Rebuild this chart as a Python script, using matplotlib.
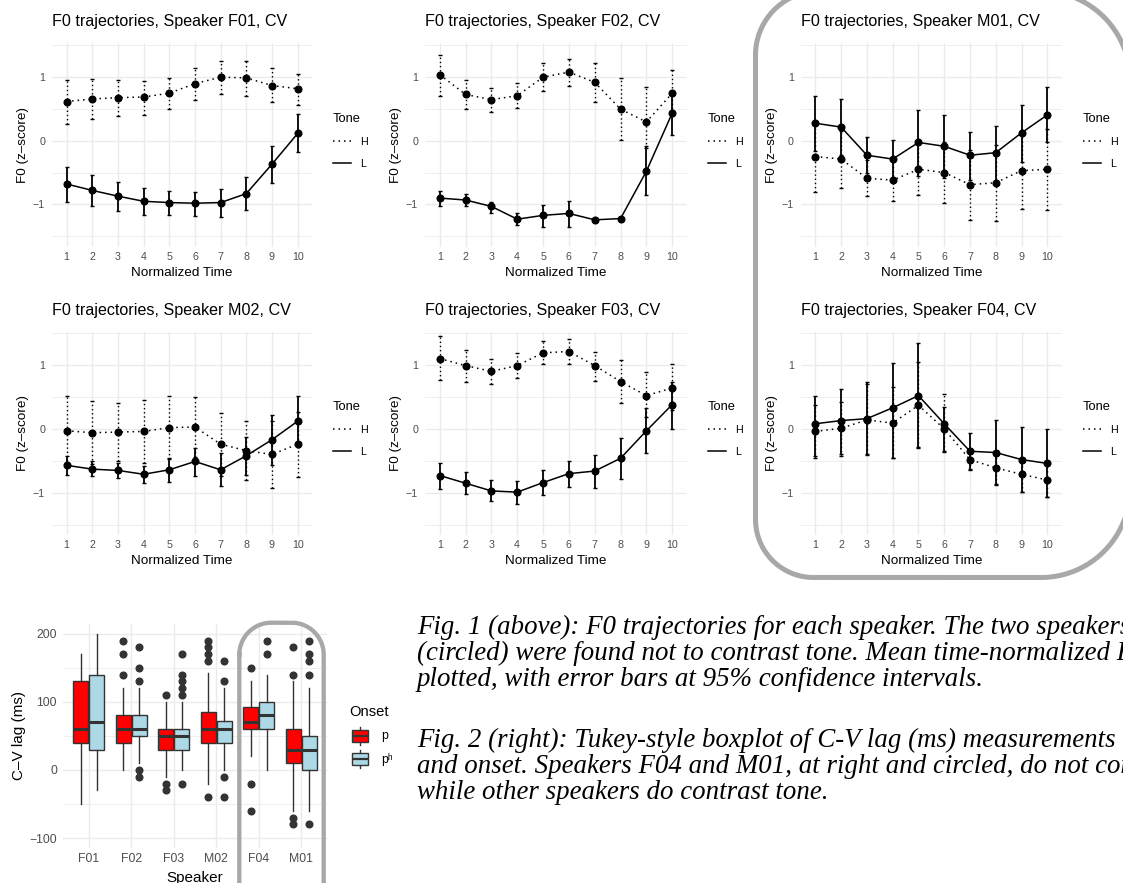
import numpy as np
import matplotlib
matplotlib.use('Agg')
import matplotlib.pyplot as plt
from matplotlib.lines import Line2D
from matplotlib.patches import Rectangle

plt.rcParams['font.family'] = ['Liberation Sans', 'DejaVu Sans']

# ---------------- data ----------------
time = np.arange(1, 11)

F01_H_mean = [0.61, 0.65, 0.67, 0.68, 0.74, 0.89, 0.99, 0.98, 0.86, 0.81]
F01_H_lo = [0.26, 0.33, 0.38, 0.40, 0.49, 0.64, 0.72, 0.69, 0.60, 0.56]
F01_H_hi = [0.95, 0.96, 0.95, 0.93, 0.97, 1.13, 1.25, 1.25, 1.13, 1.04]
F01_L_mean = [-0.68, -0.78, -0.87, -0.95, -0.97, -0.98, -0.97, -0.83, -0.37, 0.11]
F01_L_lo = [-0.96, -1.02, -1.10, -1.16, -1.16, -1.18, -1.19, -1.09, -0.66, -0.18]
F01_L_hi = [-0.41, -0.54, -0.65, -0.75, -0.79, -0.80, -0.76, -0.57, -0.08, 0.42]

F02_H_mean = [1.03, 0.72, 0.64, 0.70, 0.99, 1.07, 0.91, 0.49, 0.29, 0.74]
F02_H_lo = [0.69, 0.49, 0.44, 0.51, 0.77, 0.86, 0.61, 0.01, -0.12, 0.43]
F02_H_hi = [1.34, 0.95, 0.82, 0.90, 1.21, 1.28, 1.21, 0.97, 0.84, 1.11]
F02_L_mean = [-0.90, -0.93, -1.03, -1.23, -1.17, -1.14, -1.24, -1.22, -0.48, 0.43]
F02_L_lo = [-1.02, -1.02, -1.13, -1.32, -1.35, -1.35, -1.27, -1.24, -0.85, 0.09]
F02_L_hi = [-0.79, -0.84, -0.96, -1.14, -1.01, -0.94, -1.21, -1.20, -0.09, 0.77]

M01_H_mean = [-0.25, -0.29, -0.59, -0.62, -0.45, -0.50, -0.69, -0.66, -0.47, -0.45]
M01_H_lo = [-0.80, -0.74, -0.87, -0.95, -0.85, -0.98, -1.24, -1.26, -1.07, -1.08]
M01_H_hi = [0.28, 0.15, -0.31, -0.30, -0.06, -0.02, -0.15, -0.07, 0.12, 0.18]
M01_L_mean = [0.27, 0.21, -0.23, -0.29, -0.03, -0.09, -0.23, -0.19, 0.12, 0.40]
M01_L_lo = [-0.17, -0.22, -0.51, -0.58, -0.56, -0.59, -0.61, -0.63, -0.33, -0.02]
M01_L_hi = [0.70, 0.65, 0.05, 0.01, 0.48, 0.40, 0.13, 0.23, 0.56, 0.83]

M02_H_mean = [-0.03, -0.06, -0.05, -0.04, 0.02, 0.03, -0.24, -0.34, -0.40, -0.24]
M02_H_lo = [-0.57, -0.55, -0.51, -0.53, -0.47, -0.44, -0.73, -0.80, -0.92, -0.75]
M02_H_hi = [0.51, 0.43, 0.41, 0.45, 0.51, 0.50, 0.25, 0.12, 0.12, 0.27]
M02_L_mean = [-0.57, -0.63, -0.65, -0.71, -0.64, -0.51, -0.64, -0.42, -0.17, 0.12]
M02_L_lo = [-0.72, -0.74, -0.77, -0.85, -0.83, -0.73, -0.90, -0.72, -0.57, -0.29]
M02_L_hi = [-0.42, -0.51, -0.54, -0.58, -0.46, -0.30, -0.38, -0.13, 0.21, 0.51]

F03_H_mean = [1.10, 0.99, 0.90, 0.99, 1.19, 1.21, 0.99, 0.74, 0.52, 0.64]
F03_H_lo = [0.76, 0.73, 0.70, 0.79, 1.01, 1.02, 0.75, 0.40, 0.18, 0.30]
F03_H_hi = [1.45, 1.24, 1.10, 1.19, 1.38, 1.40, 1.21, 1.07, 0.89, 1.02]
F03_L_mean = [-0.73, -0.85, -0.97, -0.99, -0.84, -0.70, -0.66, -0.46, -0.03, 0.38]
F03_L_lo = [-0.94, -1.02, -1.13, -1.18, -1.03, -0.91, -0.92, -0.79, -0.38, 0.00]
F03_L_hi = [-0.53, -0.68, -0.80, -0.81, -0.64, -0.50, -0.41, -0.14, 0.33, 0.74]

F04_H_mean = [-0.04, 0.01, 0.14, 0.09, 0.37, 0.00, -0.48, -0.61, -0.71, -0.80]
F04_H_lo = [-0.45, -0.43, -0.39, -0.46, -0.29, -0.34, -0.64, -0.86, -0.98, -1.07]
F04_H_hi = [0.37, 0.42, 0.70, 0.65, 1.05, 0.54, -0.33, -0.34, -0.45, -0.55]
F04_L_mean = [0.08, 0.13, 0.16, 0.33, 0.52, 0.08, -0.35, -0.37, -0.48, -0.54]
F04_L_lo = [-0.42, -0.39, -0.41, -0.45, -0.30, -0.36, -0.63, -0.88, -0.99, -1.07]
F04_L_hi = [0.52, 0.63, 0.73, 1.03, 1.35, 0.34, -0.07, 0.14, 0.03, 0.00]

tones = ['H', 'L']

# boxplot (C-V lag, ms)
box_speakers = ['F01', 'F02', 'F03', 'M02', 'F04', 'M01']
onsets = ['p', 'pʰ']
p_whislo = [-50, 0, -10, -20, 20, -60]
p_q1 = [40, 40, 30, 40, 60, 10]
p_med = [60, 60, 50, 60, 70, 30]
p_q3 = [130, 80, 60, 85, 92, 60]
p_whishi = [170, 120, 100, 143, 130, 130]
p_fliers = [[], [190, 170, 140], [110, -20, -30], [190, 180, 170, 160, -40],
            [150, -20, -60], [180, 140, -70, -80]]
ph_whislo = [-30, 10, 0, 0, 0, -60]
ph_q1 = [30, 50, 30, 40, 60, 0]
ph_med = [70, 60, 50, 60, 80, 30]
ph_q3 = [140, 80, 60, 72, 100, 50]
ph_whishi = [200, 120, 100, 120, 140, 120]
ph_fliers = [[], [180, 150, 130, 0, -10], [170, 140, 130, 120, 110, -20],
             [160, 130, -10, -40], [190, 170], [190, 170, 160, 140, -80]]

# caption lines as visible in the reference (cut at the right edge there too)
caption1 = ["Fig. 1 (above): F0 trajectories for each speaker. The two speakers",
            "(circled) were found not to contrast tone. Mean time-normalized F",
            "plotted, with error bars at 95% confidence intervals."]
caption2 = ["Fig. 2 (right): Tukey-style boxplot of C-V lag (ms) measurements",
            "and onset. Speakers F04 and M01, at right and circled, do not con",
            "while other speakers do contrast tone."]

# ---------------- figure ----------------
W, H = 1123, 883
fig = plt.figure(figsize=(W / 100, H / 100), dpi=100)
fig.patch.set_facecolor('white')

GRID = '#EBEBEB'
TXT = '#4D4D4D'
DOT_LINE = (0, (1, 2.6))
DOT_BAR = (0, (1, 2.0))


def px_axes(x0, y0, x1, y1):
    return fig.add_axes([x0 / W, 1 - y1 / H, (x1 - x0) / W, (y1 - y0) / H])


def style_axes(ax):
    for s in ax.spines.values():
        s.set_visible(False)
    ax.set_axisbelow(True)
    ax.grid(True, which='major', color=GRID, lw=1.0)
    ax.grid(True, which='minor', axis='y', color=GRID, lw=0.6)


def traj_panel(box, speaker, series):
    x0, y0, x1, y1 = box
    ax = px_axes(*box)
    style_axes(ax)
    ax.set_xlim(0.43, 10.56)
    ax.set_ylim(-1.66, 1.52)
    ax.set_xticks(time)
    ax.set_yticks([-1, 0, 1])
    ax.set_yticks([-1.5, -0.5, 0.5, 1.5], minor=True)
    ax.tick_params(which='both', length=0, labelsize=7.7, labelcolor=TXT)
    ax.tick_params(axis='x', pad=3.8)
    ax.tick_params(axis='y', pad=5)
    for tone, (m, lo, hi) in zip(tones, series):
        m, lo, hi = np.array(m), np.array(lo), np.array(hi)
        ls_line = DOT_LINE if tone == 'H' else '-'
        ls_bar = DOT_BAR if tone == 'H' else '-'
        eb = ax.errorbar(time, m, yerr=[m - lo, hi - m], fmt='o', color='black',
                         ms=4.8, lw=1.1, elinewidth=1.3 if tone == 'L' else 1.0,
                         capsize=1.3, capthick=1.0, linestyle=ls_line)
        eb[2][0].set_linestyle(ls_bar)
    ax.set_title(f"F0 trajectories, Speaker {speaker}, CV", loc='left',
                 fontsize=11.6, pad=12.3, color='black')
    ax.set_xlabel('Normalized Time', fontsize=9.7, labelpad=3.6)
    ax.set_ylabel('F0 (z–score)', fontsize=9.7, labelpad=2.8)
    handles = [Line2D([], [], color='black', lw=1.1, ls=DOT_LINE),
               Line2D([], [], color='black', lw=1.1, ls='-')]
    ax.legend(handles, tones, title='Tone', loc='upper left',
              bbox_to_anchor=((x1 + 21) / W, 1 - (y0 + 69.5) / H),
              bbox_transform=fig.transFigure, frameon=False, fontsize=7.7,
              title_fontsize=9.3, handlelength=1.7, handletextpad=0.85,
              labelspacing=1.12, borderpad=0, borderaxespad=0, alignment='left')
    return ax


cols = [(52, 312), (425, 686.7), (800.7, 1061.7)]
rows = [(43.3, 246.7), (331.7, 535)]
panels = [
    ('F01', [(F01_H_mean, F01_H_lo, F01_H_hi), (F01_L_mean, F01_L_lo, F01_L_hi)]),
    ('F02', [(F02_H_mean, F02_H_lo, F02_H_hi), (F02_L_mean, F02_L_lo, F02_L_hi)]),
    ('M01', [(M01_H_mean, M01_H_lo, M01_H_hi), (M01_L_mean, M01_L_lo, M01_L_hi)]),
    ('M02', [(M02_H_mean, M02_H_lo, M02_H_hi), (M02_L_mean, M02_L_lo, M02_L_hi)]),
    ('F03', [(F03_H_mean, F03_H_lo, F03_H_hi), (F03_L_mean, F03_L_lo, F03_L_hi)]),
    ('F04', [(F04_H_mean, F04_H_lo, F04_H_hi), (F04_L_mean, F04_L_lo, F04_L_hi)]),
]
for i, (spk, series) in enumerate(panels):
    r, c = divmod(i, 3)
    traj_panel((cols[c][0], rows[r][0], cols[c][1], rows[r][1]), spk, series)

# ---------------- boxplot ----------------
bx = px_axes(63.3, 623.5, 326.7, 848.3)
style_axes(bx)
bx.set_xlim(0.4, 6.6)
bx.set_ylim(-115, 215)
bx.set_yticks([-100, 0, 100, 200])
bx.set_yticks([-50, 50, 150], minor=True)
pos = np.arange(1, len(box_speakers) + 1)
colors = ['#FF0000', '#ADD8E6']
offsets = [-0.1875, 0.1875]
groups = [(p_whislo, p_q1, p_med, p_q3, p_whishi, p_fliers),
          (ph_whislo, ph_q1, ph_med, ph_q3, ph_whishi, ph_fliers)]
for col, off, (wl, q1, md, q3, wh, fl) in zip(colors, offsets, groups):
    stats = [dict(whislo=wl[k], q1=q1[k], med=md[k], q3=q3[k], whishi=wh[k],
                  fliers=fl[k]) for k in range(len(box_speakers))]
    bx.bxp(stats, positions=pos + off, widths=0.36, patch_artist=True,
           showcaps=False, manage_ticks=False,
           boxprops=dict(facecolor=col, edgecolor='#333333', lw=1.0),
           medianprops=dict(color='#333333', lw=2.2, solid_capstyle='butt'),
           whiskerprops=dict(color='#333333', lw=1.0),
           flierprops=dict(marker='o', markerfacecolor='#333333',
                           markeredgecolor='#333333', markersize=4.8))
bx.set_xticks(pos)
bx.set_xticklabels(box_speakers)
bx.tick_params(which='both', length=0, labelsize=8.8, labelcolor=TXT)
bx.tick_params(axis='x', pad=3.6)
bx.tick_params(axis='y', pad=4.5)
bx.set_ylabel('C–V lag (ms)', fontsize=11, labelpad=2.5)
bx.set_xlabel('Speaker', fontsize=11, labelpad=4.0)

# ---------------- overlay (pixel coordinates) ----------------
ov = fig.add_axes([0, 0, 1, 1], zorder=10)
ov.set_xlim(0, W)
ov.set_ylim(H, 0)
ov.axis('off')
ov.patch.set_alpha(0)

# Onset legend
ov.text(349, 711.7, 'Onset', fontsize=10.6, va='center', ha='left')
for k, (lab, col, yc) in enumerate(zip(onsets, colors, [736, 759])):
    ov.plot([360, 360], [yc - 9, yc + 9], color='#333333', lw=1.0)
    ov.add_patch(Rectangle((351.7, yc - 6), 16.6, 12, facecolor=col,
                           edgecolor='#333333', lw=1.0, zorder=3))
    ov.plot([351.7, 368.3], [yc, yc], color='#333333', lw=1.6, zorder=4,
            solid_capstyle='butt')
    ov.text(381, yc, lab, fontsize=8.8, va='center', ha='left',
            family=['Liberation Sans', 'DejaVu Sans'])


def rrect(x0, y0, x1, y1, r_tl, r_tr, r_br, r_bl, n=40):
    xs, ys = [], []
    for (cx, cy, r, a0) in [(x0 + r_tl, y0 + r_tl, r_tl, np.pi),
                             (x1 - r_tr, y0 + r_tr, r_tr, 1.5 * np.pi),
                             (x1 - r_br, y1 - r_br, r_br, 0.0),
                             (x0 + r_bl, y1 - r_bl, r_bl, 0.5 * np.pi)]:
        t = np.linspace(a0, a0 + 0.5 * np.pi, n)
        xs.extend(cx + r * np.cos(t))
        ys.extend(cy + r * np.sin(t))
    xs.append(xs[0])
    ys.append(ys[0])
    return xs, ys


xs, ys = rrect(755.5, -9, 1130, 577.5, 64, 89, 89, 58)
ov.plot(xs, ys, color='#A8A8A8', lw=3.6, solid_joinstyle='round')
xs, ys = rrect(239.3, 622.7, 323.7, 940, 32, 32, 32, 32)
ov.plot(xs, ys, color='#A8A8A8', lw=3.1, solid_joinstyle='round')

# captions
for lines, base in [(caption1, 634), (caption2, 747)]:
    for j, line in enumerate(lines):
        ov.text(417, base + 26 * j, line, fontsize=19.4, style='italic',
                family=['Liberation Serif', 'DejaVu Serif'], va='baseline',
                ha='left', color='black')

fig.savefig('out.png', dpi=100, facecolor='white')
